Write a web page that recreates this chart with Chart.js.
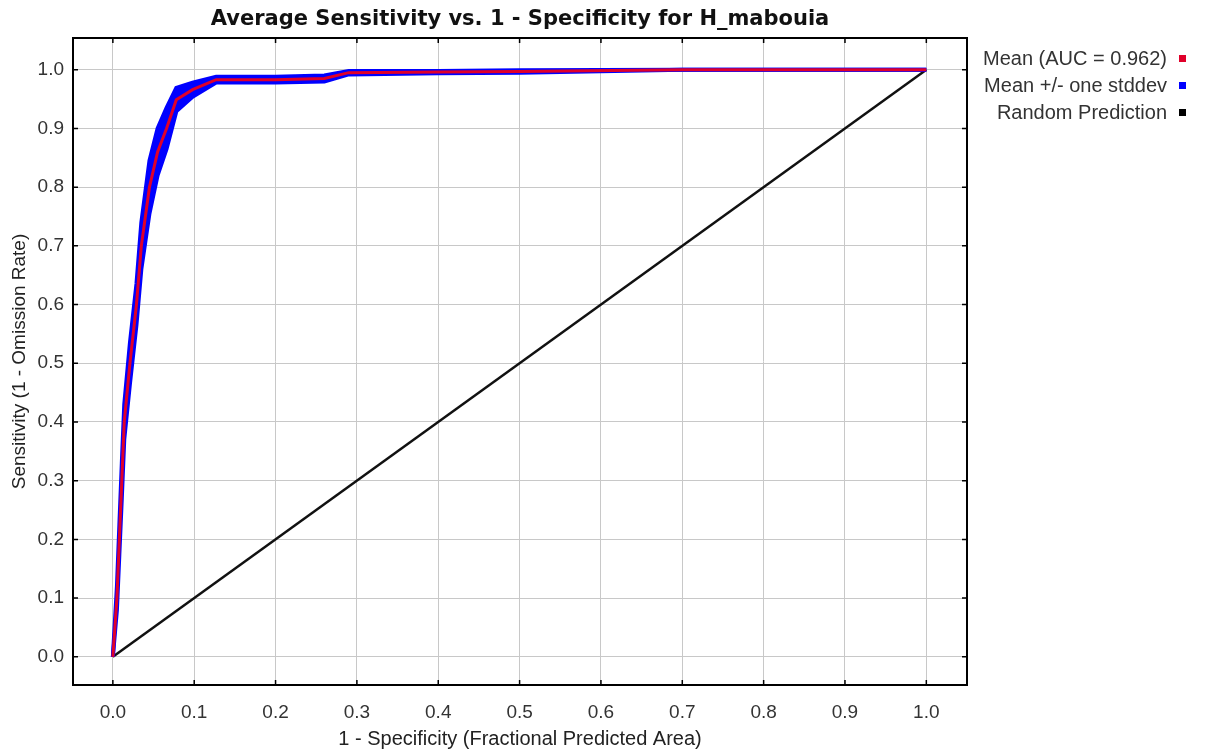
<!DOCTYPE html>
<html>
<head>
<meta charset="utf-8">
<script src="https://cdn.jsdelivr.net/npm/chart.js@4/dist/chart.umd.min.js"></script>
<style>
  body { margin: 0; background: #fff; }
  #wrap { width: 1205px; height: 754px; position: relative; }
</style>
</head>
<body>
<div id="wrap"><canvas id="roc"></canvas></div>
<script>
// ROC data
const fpr      = [0, 0.005, 0.008, 0.011, 0.014, 0.021, 0.029, 0.035, 0.045, 0.055, 0.066, 0.078, 0.098, 0.127, 0.2, 0.26, 0.29, 0.4, 0.5, 0.7, 1.0];
const meanTpr  = [0, 0.10, 0.20, 0.30, 0.40, 0.50, 0.60, 0.70, 0.80, 0.86, 0.90, 0.949, 0.966, 0.983, 0.983, 0.985, 0.995, 0.996, 0.997, 1.0, 1.0];
const upperTpr = [0, 0.12, 0.225, 0.33, 0.43, 0.535, 0.635, 0.74, 0.845, 0.90, 0.935, 0.969, 0.978, 0.988, 0.988, 0.990, 0.998, 0.998, 0.999, 1.0, 1.0];
const lowerTpr = [0, 0.08, 0.175, 0.27, 0.37, 0.465, 0.565, 0.66, 0.755, 0.82, 0.865, 0.929, 0.954, 0.978, 0.978, 0.980, 0.992, 0.994, 0.995, 1.0, 1.0];
const randomX  = [0, 1];
const randomY  = [0, 1];
const tickValues = [0, 0.1, 0.2, 0.3, 0.4, 0.5, 0.6, 0.7, 0.8, 0.9, 1.0];
const legendLabels = ["Mean (AUC = 0.962)", "Mean +/- one stddev", "Random Prediction"];

const pts = (xs, ys) => xs.map((x, i) => ({ x: x, y: ys[i] }));
const FONT = "'Liberation Sans', Arial, sans-serif";

// titel, kader, ticks naar binnen en legende
const framePlugin = {
  id: "frame",
  afterDraw(chart) {
    const { ctx, chartArea: a, scales } = chart;
    ctx.save();
    // kader
    ctx.strokeStyle = "#000";
    ctx.lineWidth = 2;
    ctx.strokeRect(a.left, a.top, a.right - a.left, a.bottom - a.top);
    // korte tickjes aan de binnenkant
    ctx.lineWidth = 1.5;
    tickValues.forEach(v => {
      const px = scales.x.getPixelForValue(v);
      const py = scales.y.getPixelForValue(v);
      ctx.beginPath();
      ctx.moveTo(px, a.bottom); ctx.lineTo(px, a.bottom - 5);
      ctx.moveTo(px, a.top); ctx.lineTo(px, a.top + 5);
      ctx.moveTo(a.left, py); ctx.lineTo(a.left + 5, py);
      ctx.moveTo(a.right, py); ctx.lineTo(a.right - 5, py);
      ctx.stroke();
    });
    // titel
    ctx.fillStyle = "#111";
    ctx.font = "bold 21px 'DejaVu Sans', sans-serif";
    ctx.textAlign = "center";
    ctx.textBaseline = "middle";
    ctx.fillText("Average Sensitivity vs. 1 - Specificity for H_mabouia", (a.left + a.right) / 2, 20);
    // legende
    const colors = ["#e0002a", "#0000ff", "#000000"];
    ctx.font = "20px " + FONT;
    ctx.textAlign = "right";
    legendLabels.forEach((lab, i) => {
      const y = 59 + i * 27;
      ctx.fillStyle = "#333";
      ctx.fillText(lab, 1167, y);
      ctx.fillStyle = colors[i];
      ctx.fillRect(1179, y - 4, 7, 7);
    });
    ctx.restore();
  }
};

new Chart(document.getElementById("roc"), {
  type: "line",
  data: {
    datasets: [
      {
        label: legendLabels[0],
        data: pts(fpr, meanTpr),
        borderColor: "#e0002a",
        borderWidth: 3,
        pointRadius: 0,
        tension: 0,
        order: 0,
      },
      {
        label: legendLabels[1],
        data: pts(fpr, upperTpr),
        borderColor: "#0000ff",
        backgroundColor: "#0000ff",
        borderWidth: 4,
        pointRadius: 0,
        tension: 0,
        fill: "+1",
        order: 1,
      },
      {
        label: "lower",
        data: pts(fpr, lowerTpr),
        borderColor: "#0000ff",
        borderWidth: 4,
        pointRadius: 0,
        tension: 0,
        order: 1,
      },
      {
        label: legendLabels[2],
        data: pts(randomX, randomY),
        borderColor: "#111",
        borderWidth: 2.5,
        pointRadius: 0,
        tension: 0,
        order: 2,
      },
    ],
  },
  options: {
    responsive: true,
    maintainAspectRatio: false,
    animation: false,
    layout: { padding: { top: 38, right: 238, left: 0, bottom: 0 } },
    plugins: {
      legend: { display: false },
      title: { display: false },
      tooltip: { enabled: false },
    },
    scales: {
      x: {
        type: "linear",
        min: -0.049,
        max: 1.05,
        afterBuildTicks: s => { s.ticks = tickValues.map(v => ({ value: v })); },
        afterFit: s => { s.height = 69; },
        border: { display: false },
        grid: { color: "#c8c8c8", lineWidth: 1, drawTicks: false },
        ticks: {
          color: "#333",
          font: { family: FONT, size: 19 },
          padding: 16,
          callback: v => v.toFixed(1),
        },
        title: {
          display: true,
          text: "1 - Specificity (Fractional Predicted Area)",
          color: "#222",
          font: { family: FONT, size: 20 },
          padding: { top: 0, bottom: 3 },
        },
      },
      y: {
        type: "linear",
        min: -0.048,
        max: 1.054,
        afterBuildTicks: s => { s.ticks = tickValues.map(v => ({ value: v })); },
        afterFit: s => { s.width = 73; },
        border: { display: false },
        grid: { color: "#c8c8c8", lineWidth: 1, drawTicks: false },
        ticks: {
          color: "#333",
          font: { family: FONT, size: 19 },
          padding: 9,
          callback: v => v.toFixed(1),
        },
        title: {
          display: true,
          text: "Sensitivity (1 - Omission Rate)",
          color: "#222",
          font: { family: FONT, size: 19 },
          padding: { top: 8, bottom: 0 },
        },
      },
    },
  },
  plugins: [framePlugin],
});
</script>
</body>
</html>
